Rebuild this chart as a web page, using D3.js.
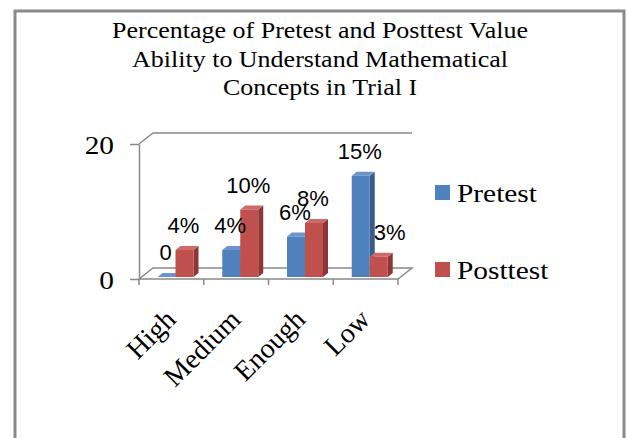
<!DOCTYPE html>
<html>
<head>
<meta charset="utf-8">
<script src="https://cdn.jsdelivr.net/npm/d3@7"></script>
<style>
  body { margin: 0; background: #fff; }
  text { fill: #000; }
</style>
</head>
<body>
<svg id="chart" width="627" height="438"></svg>
<script>
// chart data
const categories = ["High", "Medium", "Enough", "Low"];
const seriesNames = ["Pretest", "Posttest"];
const pretest = [0, 4, 6, 15];
const posttest = [4, 10, 8, 3];
const pretestLabels = ["0", "4%", "6%", "15%"];
const posttestLabels = ["4%", "10%", "8%", "3%"];
const yTicks = [0, 20];
const titleLines = [
  "Percentage of Pretest and Posttest Value",
  "Ability to Understand Mathematical",
  "Concepts in Trial I"
];

const colors = {
  Pretest:  { front: "#4f81bd", side: "#385d8a", top: "#6b96cb" },
  Posttest: { front: "#c0504d", side: "#8c3735", top: "#cd6b68" }
};

const svg = d3.select("#chart");
const serif = "'Liberation Serif', 'Times New Roman', serif";
const sans = "'Liberation Sans', Arial, sans-serif";
const wallColor = "#898989";
const stretch = 1.13;   // the source picture is a little wider than tall

// outer frame (bottom edge runs off the picture)
svg.append("path")
  .attr("d", "M15,440 L15,11 L624,11 L624,440")
  .attr("fill", "none")
  .attr("stroke", "#8a8a8a")
  .attr("stroke-width", 3);

// title
svg.append("g").selectAll("text")
  .data(titleLines)
  .join("text")
    .attr("transform", (d, i) => `translate(320,${38 + i * 28.5}) scale(${stretch},1)`)
    .attr("text-anchor", "middle")
    .style("font-family", serif)
    .style("font-size", "23px")
    .text(d => d);

// scales
const x0 = d3.scaleBand().domain(categories).range([139, 398]);
const x1 = d3.scaleBand().domain(seriesNames).range([14.5, 50.5]);
const y = d3.scaleLinear().domain([0, 20]).range([279, 144]);

const depth = { dx: 14, dy: -11 };     // floor / wall depth
const plane = { dx: 4, dy: -2 };       // where the bar fronts sit
const barDepth = { dx: 5, dy: -4 };

// walls / floor
const yTop = y(20), yBot = y(0);
const xL = x0.range()[0], xR = x0.range()[1];
const wall = svg.append("g")
  .attr("fill", "none")
  .attr("stroke", wallColor)
  .attr("stroke-width", 1.5);
wall.append("path")
  .attr("d", `M${xL},${yTop} L${xL + depth.dx},${yTop + depth.dy} L${xR + depth.dx},${yTop + depth.dy}`);
wall.append("path")
  .attr("d", `M${xL},${yBot} L${xL + depth.dx},${yBot + depth.dy} L${xR + depth.dx},${yBot + depth.dy} L${xR},${yBot} Z`);

// y axis
const yAxis = d3.axisLeft(y)
  .tickValues(yTicks)
  .tickSize(9)
  .tickSizeOuter(0)
  .tickFormat(d3.format("d"));

const yAxisG = svg.append("g").attr("transform", `translate(${xL},0)`).call(yAxis);
yAxisG.selectAll("line, path").attr("stroke", wallColor).attr("stroke-width", 1.5);
yAxisG.selectAll("text")
  .attr("x", 0)
  .attr("transform", `translate(-25,0) scale(${stretch},1)`)
  .attr("dy", "0.36em")
  .style("font-family", serif)
  .style("font-size", "26px")
  .attr("fill", "#000");

// x axis ticks at category boundaries
const bounds = categories.map(c => x0(c)).concat([xR]);
svg.append("g").selectAll("line")
  .data(bounds)
  .join("line")
    .attr("x1", d => d).attr("x2", d => d)
    .attr("y1", yBot).attr("y2", yBot + 6)
    .attr("stroke", wallColor)
    .attr("stroke-width", 1.5);

svg.append("g").selectAll("text")
  .data(categories)
  .join("text")
    .attr("transform", d => `translate(${x0(d) + x0.bandwidth() / 2 + 6},${yBot + 42}) rotate(-45)`)
    .attr("text-anchor", "end")
    .style("font-family", serif)
    .style("font-size", "28px")
    .text(d => d);

// bars
const rows = [];
categories.forEach((c, i) => {
  rows.push({ cat: c, series: "Pretest", value: pretest[i], label: pretestLabels[i] });
  rows.push({ cat: c, series: "Posttest", value: posttest[i], label: posttestLabels[i] });
});

const barsG = svg.append("g");
rows.forEach(d => {
  const xa = x0(d.cat) + x1(d.series) + plane.dx;
  const xb = xa + x1.bandwidth();
  const yb = y(0) + plane.dy;
  const yt = y(d.value) + plane.dy;
  d.xa = xa; d.xb = xb; d.yt = yt;
  const c = colors[d.series];
  const g = barsG.append("g");
  g.append("path")
    .attr("d", `M${xb},${yb} L${xb + barDepth.dx},${yb + barDepth.dy} L${xb + barDepth.dx},${yt + barDepth.dy} L${xb},${yt} Z`)
    .attr("fill", c.side);
  g.append("path")
    .attr("d", `M${xa},${yt} L${xa + barDepth.dx},${yt + barDepth.dy} L${xb + barDepth.dx},${yt + barDepth.dy} L${xb},${yt} Z`)
    .attr("fill", c.top);
  g.append("rect")
    .attr("x", xa).attr("y", yt)
    .attr("width", xb - xa).attr("height", yb - yt)
    .attr("fill", c.front);
});

// data labels; the short Low/Posttest label is pushed right off the tall bar beside it
svg.append("g").selectAll("text")
  .data(rows)
  .join("text")
    .attr("x", d => (d.xa + d.xb) / 2 + (d.cat === "Low" && d.series === "Posttest" ? 11 : -1))
    .attr("y", d => d.yt - 17)
    .attr("text-anchor", "middle")
    .style("font-family", sans)
    .style("font-size", "22px")
    .text(d => d.label);

// legend
const legend = svg.append("g").selectAll("g")
  .data(seriesNames)
  .join("g")
    .attr("transform", (d, i) => `translate(435,${185 + i * 77})`);
legend.append("rect")
  .attr("width", 15).attr("height", 15)
  .attr("fill", d => colors[d].front);
legend.append("text")
  .attr("transform", `translate(22,17) scale(${stretch},1)`)
  .style("font-family", serif)
  .style("font-size", "26px")
  .text(d => d);
</script>
</body>
</html>
